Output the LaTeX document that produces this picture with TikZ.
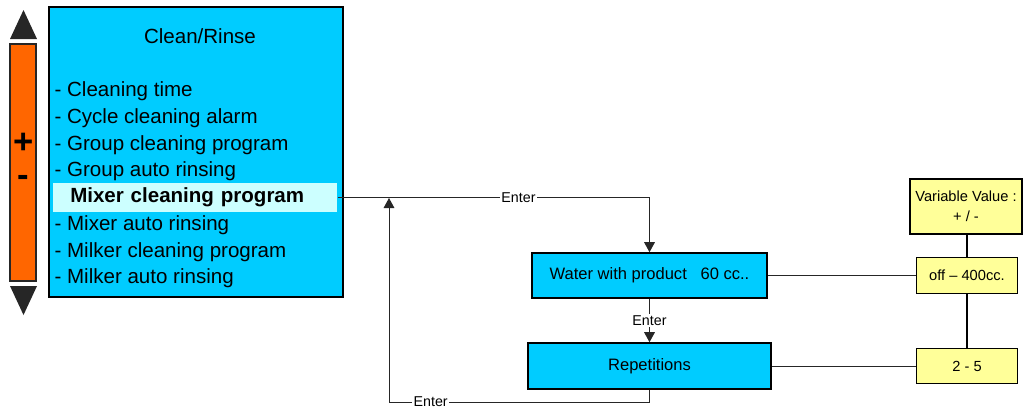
\documentclass[tikz,border=0pt]{standalone}
\usepackage{fontspec}
\setmainfont{Liberation Sans}
\usetikzlibrary{arrows.meta}
\definecolor{menucyan}{HTML}{00CCFF}
\definecolor{selcyan}{HTML}{CCFFFF}
\definecolor{barorange}{HTML}{FF6600}
\definecolor{valyellow}{HTML}{FFFF99}
\definecolor{darkfill}{HTML}{262626}

\begin{document}
\begin{tikzpicture}[x=0.75pt,y=-0.75pt,
  menuitem/.style={anchor=west,inner sep=1pt,text height=11pt,text depth=3pt,font=\fontsize{15.4}{18}\selectfont},
  box/.style={draw,line width=1.2pt,fill=menucyan,font=\fontsize{12.4}{14}\selectfont},
  valbox/.style={draw,line width=0.8pt,fill=valyellow,font=\fontsize{11}{15}\selectfont,align=center},
  lbl/.style={fill=white,inner sep=1pt,font=\fontsize{10.7}{12}\selectfont},
  link/.style={draw=black!85,line width=0.7pt},
  arrowed/.style={-{Triangle[length=7.5pt,width=8pt]}}]
\useasboundingbox (0,0) rectangle (1023,412);
% Side bar
\node[draw=black!85,line width=1.1pt,fill=barorange,minimum width=19.5pt,minimum height=177.75pt,inner sep=0pt] (bar) at (23,162.5) {};
\node[inner sep=0pt,font=\fontsize{26}{26}\bfseries] (plus) at (23.5,143) {+};
\node[inner sep=0pt,font=\fontsize{26}{26}\bfseries] (minus) at (23.5,181) {-};
\fill[darkfill] (10,39) -- (37,39) -- (23.5,10) -- cycle;
\fill[darkfill] (10,286) -- (37,286) -- (23.5,315) -- cycle;
% Menu
\node[draw,line width=1.5pt,fill=menucyan,minimum width=220.5pt,minimum height=217.5pt] (menu) at (196,152) {};
\node[font=\fontsize{15.4}{18}\selectfont] (title) at (200,36) {Clean/Rinse};
\node[menuitem] (i1) at (53,91.5) {- Cleaning time};
\node[menuitem] (i2) at (53,118.5) {- Cycle cleaning alarm};
\node[menuitem] (i3) at (53,145) {- Group cleaning program};
\node[menuitem] (i4) at (53,171.5) {- Group auto rinsing};
\node[anchor=west,fill=selcyan,minimum width=213pt,minimum height=21.75pt,inner xsep=12.75pt,inner ysep=0pt,text width=187.5pt,align=left,text height=11pt,text depth=3pt,font=\fontsize{15.4}{18}\bfseries] (mixer) at (53,197.5) {Mixer cleaning program};
\node[menuitem] (i6) at (53,225) {- Mixer auto rinsing};
\node[menuitem] (i7) at (53,252) {- Milker cleaning program};
\node[menuitem] (i8) at (53,278.5) {- Milker auto rinsing};
% Steps
\node[box,minimum width=176.25pt,minimum height=33.75pt] (water) at (649.5,275.5) {Water with product \ \ 60 cc..};
\node[box,minimum width=182.25pt,minimum height=34.5pt] (rep) at (649.5,366) {Repetitions};
% Values
\node[valbox,minimum width=84pt,minimum height=41.25pt] (var) at (966,206.5) {Variable Value :\\+ / -};
\node[valbox,minimum width=75.75pt,minimum height=27pt] (off) at (967,275.5) {off -- 400cc.};
\node[valbox,minimum width=75.75pt,minimum height=26.25pt] (range) at (967,366) {2 - 5};
\coordinate (back) at (389,402);
\coordinate (loop) at (389,198);
% Edges
\draw[link,arrowed] (mixer.east) -| node[pos=0.29,lbl]{Enter} (water.north);
\draw[link,arrowed] (water.south) -- node[lbl]{Enter} (rep.north);
\draw[link,arrowed] (rep.south) |- node[pos=0.92,lbl]{Enter} (back) -- (loop);
\draw[link] (water.east) -- (off.west);
\draw[link] (rep.east) -- (range.west);
\draw[line width=1pt] (off.north |- var.south) -- (off.north);
\draw[line width=1pt] (off.south) -- (range.north);
\end{tikzpicture}
\end{document}
